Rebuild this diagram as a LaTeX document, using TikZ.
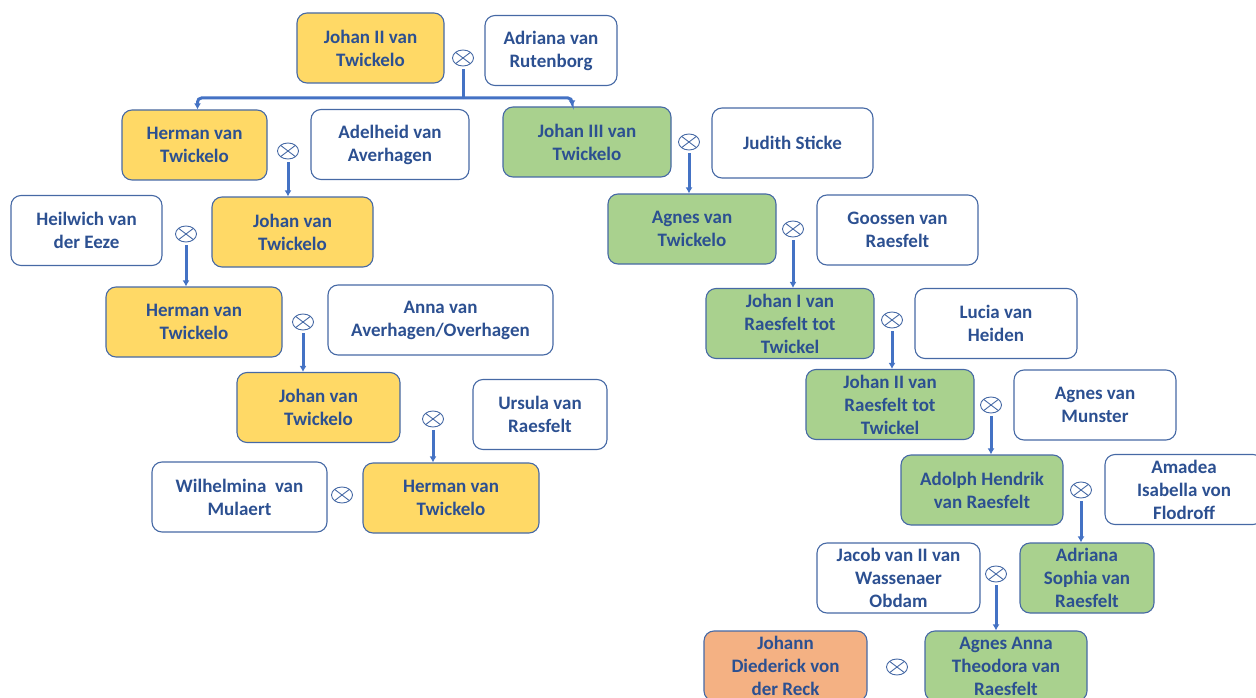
\documentclass[tikz,border=0pt]{standalone}
\usepackage{fontspec}
\setmainfont{Carlito}
\usetikzlibrary{calc,arrows.meta,shapes.geometric}

\begin{document}
\begin{tikzpicture}[x=1pt,y=-1pt,>={Latex[length=6pt,width=7pt]},
  person/.style={draw=boxline, line width=1.1pt, rounded corners=10pt, align=center,
    minimum height=70pt, inner sep=0pt, text=txtblue,
    font=\bfseries\fontsize{19}{23}\selectfont},
  wed/.style={ellipse, draw=boxline, line width=0.9pt, minimum width=21pt,
    minimum height=16pt, inner sep=0pt,
    path picture={
      \draw[boxline, line width=0.9pt]
        ($(path picture bounding box.center)!0.707!(path picture bounding box.north east)$) --
        ($(path picture bounding box.center)!0.707!(path picture bounding box.south west)$)
        ($(path picture bounding box.center)!0.707!(path picture bounding box.north west)$) --
        ($(path picture bounding box.center)!0.707!(path picture bounding box.south east)$);}},
  kid/.style={->, draw=lineblue, line width=3pt, shorten <=3pt}]

\definecolor{txtblue}{RGB}{44,80,145}
\definecolor{boxline}{RGB}{70,105,165}
\definecolor{lineblue}{RGB}{68,114,196}
\definecolor{twick}{RGB}{255,217,102}
\definecolor{raes}{RGB}{169,209,142}
\definecolor{reck}{RGB}{244,177,131}

\useasboundingbox (0,0) rectangle (1256,698);
\clip (0,0) rectangle (1256,698);

% van Twickelo line
\node[person, fill=twick, minimum width=147pt] (jt2) at (370.5,48) {Johan II van\\Twickelo};
\node[person, minimum width=132pt] (adr) at (551,50.5) {Adriana van\\Rutenborg};
\node[wed] (m0) at (463,58) {};

\node[person, fill=twick, minimum width=145pt] (ht1) at (194.5,145) {Herman van\\Twickelo};
\node[person, minimum width=158pt] (ade) at (390,144.5) {Adelheid van\\Averhagen};
\node[wed] (m1) at (288,151) {};

\node[person, minimum width=151pt] (hei) at (86.5,230.5) {Heilwich van\\der Eeze};
\node[person, fill=twick, minimum width=161pt] (jt4) at (292.5,232) {Johan van\\Twickelo};
\node[wed] (m3) at (186,234) {};

\node[person, fill=twick, minimum width=176pt] (ht2) at (194,322) {Herman van\\Twickelo};
\node[person, minimum width=225pt] (ann) at (440.5,320) {Anna van\\Averhagen/Overhagen};
\node[wed] (m5) at (303,322) {};

\node[person, fill=twick, minimum width=163pt] (jt5) at (318.5,407.5) {Johan van\\Twickelo};
\node[person, minimum width=134pt] (urs) at (540,414.5) {Ursula van\\Raesfelt};
\node[wed] (m7) at (433,419) {};

\node[person, minimum width=175pt] (wil) at (239.5,497) {Wilhelmina\ \ van\\Mulaert};
\node[person, fill=twick, minimum width=176pt] (ht3) at (451,498) {Herman van\\Twickelo};
\node[wed] (m9) at (342,495) {};

% van Raesfelt line
\node[person, fill=raes, minimum width=168pt] (jt3) at (587,142) {Johan III van\\Twickelo};
\node[person, minimum width=161pt] (jud) at (792.5,143) {Judith Sticke};
\node[wed] (m2) at (689,142) {};

\node[person, fill=raes, minimum width=168pt] (agt) at (692,229) {Agnes van\\Twickelo};
\node[person, minimum width=161pt] (goo) at (897.5,230) {Goossen van\\Raesfelt};
\node[wed] (m4) at (793,229) {};

\node[person, fill=raes, minimum width=168pt] (jr1) at (790,323.5) {Johan I van\\Raesfelt tot\\Twickel};
\node[person, minimum width=162pt] (luc) at (996,323.5) {Lucia van\\Heiden};
\node[wed] (m6) at (892,320) {};

\node[person, fill=raes, minimum width=168pt] (jr2) at (890,404.5) {Johan II van\\Raesfelt tot\\Twickel};
\node[person, minimum width=162pt] (agm) at (1095,405) {Agnes van\\Munster};
\node[wed] (m8) at (991,405) {};

\node[person, fill=raes, minimum width=162pt] (ahr) at (982,490) {Adolph Hendrik\\van Raesfelt};
\node[person, minimum width=158pt] (ama) at (1184,489.5) {Amadea\\Isabella von\\Flodroff};
\node[wed] (m10) at (1081,490) {};

\node[person, minimum width=163pt] (jac) at (898.5,578) {Jacob van II van\\Wassenaer\\Obdam};
\node[person, fill=raes, minimum width=134pt] (asr) at (1087,578) {Adriana\\Sophia van\\Raesfelt};
\node[wed] (m11) at (996,574) {};

\node[person, fill=reck, minimum width=163pt] (jdr) at (785.5,666) {Johann\\Diederick von\\der Reck};
\node[person, fill=raes, minimum width=162pt] (aat) at (1006,666) {Agnes Anna\\Theodora van\\Raesfelt};
\node[wed] (m12) at (897,667) {};

% children
\coordinate (split) at (463,98);
\draw[lineblue, line width=3pt, shorten <=3pt] (m0.south) -- (split);
\draw[kid, shorten <=0pt, rounded corners=4pt] (split) -| ([xshift=3pt]ht1.north);
\draw[kid, shorten <=0pt, rounded corners=4pt] (split) -| ([xshift=-15pt]jt3.north);
\foreach \m/\c in {m1/jt4, m3/ht2, m5/jt5, m7/ht3, m2/agt, m4/jr1, m6/jr2, m8/ahr, m10/asr, m11/aat}
  \draw[kid] (\m.south) -- (\m.south |- \c.north);

\end{tikzpicture}
\end{document}
